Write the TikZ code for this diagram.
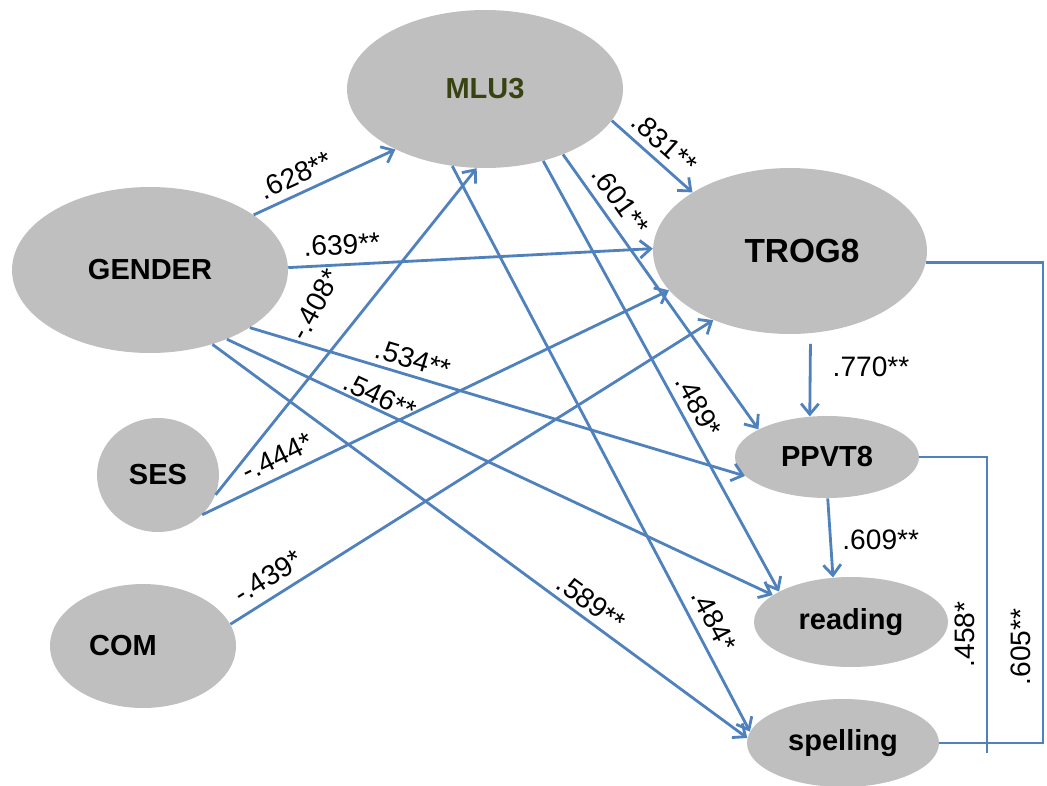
\documentclass[tikz,border=0pt]{standalone}
\usepackage{fontspec}
\setmainfont{Liberation Sans}
\usetikzlibrary{shapes.geometric}
\usetikzlibrary{arrows.meta}
\definecolor{pathblue}{RGB}{79,129,189}
\definecolor{ovalgray}{RGB}{191,191,191}
\definecolor{mlugreen}{RGB}{55,68,18}
\tikzset{%
  var/.style = {ellipse,fill=ovalgray,inner sep=0pt,
        font=\fontsize{16.5}{20}\selectfont\bfseries},
  effect/.style = {-{Straight Barb[length=6pt,width=10pt]},
        draw=pathblue,line width=1.6pt},
  corr/.style = {draw=pathblue,line width=1.6pt},
  lbl/.style = {font=\fontsize{16}{19}\selectfont,inner sep=2pt}
}

\begin{document}
\begin{tikzpicture}[x=0.02cm,y=-0.02cm]
   \useasboundingbox (0,0) rectangle (1047,785);
   \node[var,minimum width=5.52cm,minimum height=3.16cm,text=mlugreen] (mlu3) at (485,89) {MLU3};
   \node[var,minimum width=5.52cm,minimum height=3.32cm] (gender) at (150,270) {GENDER};
   \node[var,minimum width=5.48cm,minimum height=3.32cm,
         font=\fontsize{19}{22}\selectfont\bfseries] (trog8) at (790,251) {\hspace*{0.48cm}TROG8};
   \node[var,minimum width=2.44cm,minimum height=2.28cm] (ses) at (158,475) {SES};
   \node[var,minimum width=3.72cm,minimum height=2.48cm] (com) at (143,646) {COM\hspace*{0.8cm}};
   \node[var,minimum width=3.68cm,minimum height=1.64cm] (ppvt8) at (827,457) {PPVT8};
   \node[var,minimum width=3.88cm,minimum height=1.80cm] (reading) at (851,622) {reading};
   \node[var,minimum width=3.84cm,minimum height=1.76cm] (spelling) at (843,743) {spelling};

   \coordinate (rail605) at (1043,743);
   \coordinate (rail458) at (987,753);

   \draw[effect] (gender.28) -- node[lbl,pos=.35,sloped,above=2pt] {.628**} (mlu3.214);
   \draw[effect] (gender.1) -- node[lbl,pos=.15,sloped,above=3pt] {.639**} (trog8.179);
   \draw[effect] (ses.-19) -- node[lbl,pos=.51,sloped,above=15pt,rotate=10] {-.408*} (mlu3.264);
   \draw[effect] (ses.-42) -- node[lbl,pos=.18,sloped,above=3pt] {-.444*} (trog8.198);
   \draw[effect] (com.14) -- node[lbl,pos=.1,sloped,above=3pt] {-.439*} (trog8.222);
   \draw[effect] (mlu3.-14) -- node[lbl,pos=.5,sloped,above=2pt] {.831**} (trog8.149);
   \draw[effect] (mlu3.-40) -- node[lbl,pos=.21,sloped,above=3pt] {.601**} (ppvt8.158);
   \draw[effect] (mlu3.-51) -- node[lbl,pos=.59,sloped,above=2pt] {.489*} (reading.157);
   \draw[effect] (mlu3.247) -- node[lbl,pos=.82,sloped,above=3pt] {.484*} (spelling.173);
   \draw[effect,shorten <=6pt] (trog8.-76) -- node[lbl,pos=.4,right=10pt] {.770**} (ppvt8.113);
   \draw[effect] (ppvt8.-89) -- node[lbl,pos=.52,right=4pt] {.609**} (reading.112);
   \draw[effect] (gender.-30) -- node[lbl,pos=.32,sloped,above=1pt] {.534**} (ppvt8.193);
   \draw[effect] (gender.-42) -- node[lbl,pos=.27,sloped,above=-1pt] {.546**} (reading.161);
   \draw[effect] (gender.-50) -- node[lbl,pos=.69,sloped,above=1pt] {.589**} (spelling.177);

   \draw[corr] (trog8.-5) -| node[lbl,pos=.9,xshift=-4pt,anchor=south,rotate=90] {.605**} (rail605) -- (spelling.east);
   \draw[corr] (ppvt8.east) -| node[lbl,pos=.8,xshift=-4pt,anchor=south,rotate=90] {.458*} (rail458);
\end{tikzpicture}
\end{document}
